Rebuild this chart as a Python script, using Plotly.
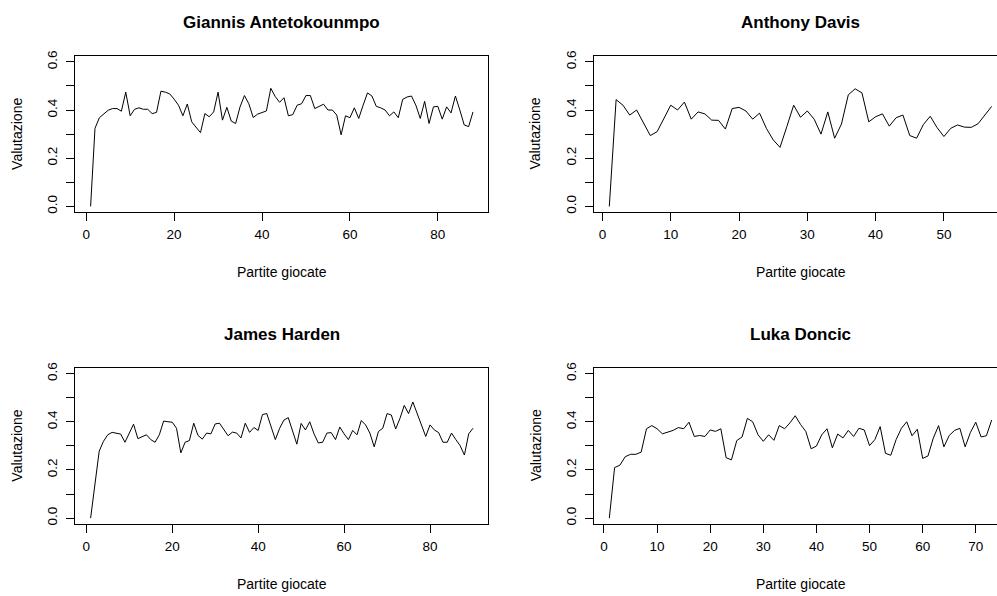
import plotly.graph_objects as go

# Valutazione partita per partita dei quattro giocatori
giannis = [0, 0.324, 0.368, 0.385, 0.399, 0.406, 0.406, 0.395, 0.474, 0.376,
           0.403, 0.409, 0.403, 0.403, 0.385, 0.39, 0.478, 0.474, 0.467, 0.445,
           0.42, 0.376, 0.425, 0.351, 0.33, 0.306, 0.385, 0.372, 0.392, 0.474,
           0.358, 0.411, 0.354, 0.344, 0.413, 0.46, 0.426, 0.369, 0.383, 0.39,
           0.396, 0.49, 0.456, 0.432, 0.451, 0.376, 0.381, 0.42, 0.426, 0.46,
           0.46, 0.406, 0.415, 0.424, 0.40, 0.40, 0.379, 0.297, 0.376, 0.368,
           0.409, 0.365, 0.42, 0.471, 0.458, 0.415, 0.409, 0.40, 0.376, 0.392,
           0.368, 0.444, 0.454, 0.458, 0.42, 0.365, 0.436, 0.344, 0.413, 0.415,
           0.362, 0.413, 0.388, 0.458, 0.40, 0.338, 0.331, 0.392]

davis = [0, 0.443, 0.42, 0.379, 0.40, 0.345, 0.294, 0.31, 0.362, 0.42,
         0.40, 0.433, 0.362, 0.392, 0.384, 0.358, 0.357, 0.321, 0.406, 0.411,
         0.396, 0.362, 0.387, 0.324, 0.276, 0.245, 0.331, 0.42, 0.37, 0.396,
         0.362, 0.30, 0.392, 0.283, 0.342, 0.463, 0.488, 0.471, 0.351, 0.372,
         0.384, 0.333, 0.368, 0.379, 0.294, 0.283, 0.34, 0.374, 0.327, 0.29,
         0.324, 0.338, 0.329, 0.328, 0.343, 0.379, 0.415]

harden = [0, 0.143, 0.278, 0.319, 0.346, 0.356, 0.353, 0.349, 0.315, 0.353,
          0.39, 0.33, 0.339, 0.346, 0.326, 0.315, 0.346, 0.403, 0.40, 0.398,
          0.373, 0.271, 0.315, 0.322, 0.394, 0.343, 0.328, 0.353, 0.35, 0.391,
          0.394, 0.369, 0.342, 0.357, 0.353, 0.333, 0.394, 0.356, 0.376, 0.364,
          0.43, 0.434, 0.38, 0.326, 0.373, 0.407, 0.417, 0.364, 0.307, 0.393,
          0.366, 0.40, 0.35, 0.312, 0.315, 0.353, 0.355, 0.326, 0.378, 0.35,
          0.326, 0.364, 0.346, 0.405, 0.387, 0.353, 0.296, 0.36, 0.373, 0.434,
          0.428, 0.37, 0.414, 0.468, 0.434, 0.482, 0.434, 0.391, 0.339, 0.387,
          0.366, 0.355, 0.315, 0.315, 0.353, 0.326, 0.301, 0.262, 0.35, 0.373]

doncic = [0, 0.21, 0.22, 0.255, 0.265, 0.265, 0.274, 0.371, 0.384, 0.371,
          0.35, 0.356, 0.364, 0.376, 0.371, 0.398, 0.339, 0.343, 0.339, 0.366,
          0.36, 0.371, 0.251, 0.242, 0.322, 0.337, 0.414, 0.40, 0.346, 0.319,
          0.346, 0.323, 0.384, 0.371, 0.395, 0.425, 0.389, 0.36, 0.288, 0.299,
          0.346, 0.371, 0.292, 0.349, 0.333, 0.364, 0.339, 0.373, 0.366, 0.301,
          0.326, 0.38, 0.269, 0.261, 0.326, 0.373, 0.40, 0.342, 0.369, 0.248,
          0.258, 0.332, 0.384, 0.296, 0.343, 0.364, 0.373, 0.296, 0.356, 0.398,
          0.337, 0.342, 0.407]

players = ["Giannis Antetokounmpo", "Anthony Davis", "James Harden", "Luka Doncic"]
series = [giannis, davis, harden, doncic]
x_ticks = [[0, 20, 40, 60, 80], [0, 10, 20, 30, 40, 50],
           [0, 20, 40, 60, 80], [0, 10, 20, 30, 40, 50, 60, 70]]
y_ticks = [0, 0.1, 0.2, 0.3, 0.4, 0.5, 0.6]
y_tick_text = ["0.0", "", "0.2", "", "0.4", "", "0.6"]
x_title = "Partite giocate"
y_title = "Valutazione"

W, H = 997, 596
FONT = "Liberation Sans, Arial, sans-serif"

# pixel geometry of each panel box: left, right (visible), top, bottom,
# full (virtual) right edge used to centre the texts
panels = [
    dict(l=75.3, r=488.3, t=50.7, b=209.0, full_r=488.3),
    dict(l=594.0, r=997.0, t=50.7, b=209.0, full_r=1007.0),
    dict(l=75.3, r=488.3, t=366.7, b=525.0, full_r=488.3),
    dict(l=594.0, r=997.0, t=366.7, b=525.0, full_r=1007.0),
]

fig = go.Figure()
annotations = []
for k, (name, vals, xt, p) in enumerate(zip(players, series, x_ticks, panels)):
    n = len(vals)
    games = list(range(1, n + 1))
    pad = 0.04 * (n - 1)
    lo = 1 - pad
    hi_full = n + pad
    # the right-hand panels are clipped by the page edge
    hi = lo + (hi_full - lo) * (p["r"] - p["l"]) / (p["full_r"] - p["l"])
    sfx = "" if k == 0 else str(k + 1)
    fig.add_trace(go.Scatter(x=games, y=vals, mode="lines",
                             line=dict(color="black", width=1),
                             xaxis="x" + sfx, yaxis="y" + sfx,
                             showlegend=False, hoverinfo="skip"))
    right_col = k % 2 == 1
    fig.layout["xaxis" + sfx] = dict(
        domain=[p["l"] / W, p["r"] / W], range=[lo, hi], anchor="y" + sfx,
        showgrid=False, zeroline=False, showline=True, mirror=True,
        linecolor="black", linewidth=1,
        tickmode="array", tickvals=xt, ticks="outside", ticklen=8,
        tickcolor="black", tickwidth=1, ticklabelstandoff=2,
        tickfont=dict(family=FONT, size=13.5, color="black"))
    fig.layout["yaxis" + sfx] = dict(
        domain=[1 - p["b"] / H, 1 - p["t"] / H], range=[-0.024, 0.624],
        anchor="x" + sfx, showgrid=False, zeroline=False, showline=True,
        mirror=not right_col, linecolor="black", linewidth=1,
        tickmode="array", tickvals=y_ticks, ticktext=y_tick_text,
        ticks="outside", ticklen=8, tickcolor="black", tickwidth=1,
        tickangle=-90, ticklabelstandoff=4,
        tickfont=dict(family=FONT, size=13.5, color="black"))

    cx = (p["l"] + p["full_r"]) / 2
    cy = (p["t"] + p["b"]) / 2
    # panel title
    annotations.append(dict(text="<b>" + name + "</b>", x=cx / W, y=1 - (p["t"] - 34) / H,
                            xref="paper", yref="paper", showarrow=False,
                            xanchor="center", yanchor="middle",
                            font=dict(family=FONT, size=17, color="black")))
    # x axis label
    annotations.append(dict(text=x_title, x=cx / W, y=1 - (p["b"] + 60.5) / H,
                            xref="paper", yref="paper", showarrow=False,
                            xanchor="center", yanchor="middle",
                            font=dict(family=FONT, size=14, color="black")))
    # y axis label
    annotations.append(dict(text=y_title, x=(p["l"] - 58.5) / W, y=1 - cy / H,
                            xref="paper", yref="paper", showarrow=False,
                            xanchor="center", yanchor="middle", textangle=-90,
                            font=dict(family=FONT, size=14, color="black")))

fig.update_layout(width=W, height=H, margin=dict(l=0, r=0, t=0, b=0),
                  paper_bgcolor="white", plot_bgcolor="white",
                  annotations=annotations)

fig.write_html("out.html")
